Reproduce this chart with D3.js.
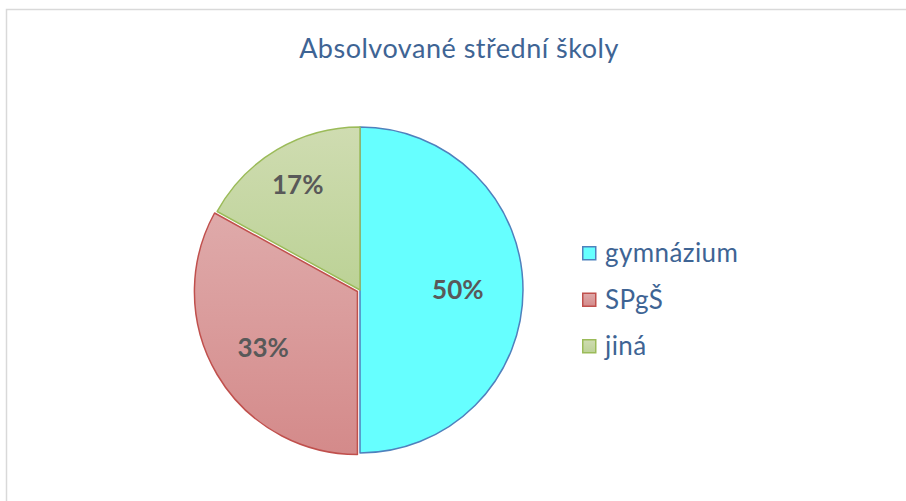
<!DOCTYPE html>
<html>
<head>
<meta charset="utf-8">
<script src="https://d3js.org/d3.v7.min.js"></script>
<style>
  body { margin: 0; background: #fff; }
  text { font-family: Lato, "Open Sans", sans-serif; }
</style>
</head>
<body>
<script>
// data
var categories = ["gymnázium", "SPgŠ", "jiná"];
var values = [50, 33, 17];
var labels = ["50%", "33%", "17%"];
var title = "Absolvované střední školy";

// look
var fills = [["#66ffff", "#66ffff"], ["#dfaaaa", "#d48a8a"], ["#cfdcb1", "#bcd296"]];
var strokes = ["#4f81bd", "#c0504d", "#9bbb59"];
var labelRadius = [0.6, 0.69, 0.75];
var explode = [0, 3, 0];

var width = 906, height = 501;
var cx = 360, cy = 290, r = 163;

var svg = d3.select("body").append("svg")
  .attr("width", width)
  .attr("height", height);

// chart frame
svg.append("rect")
  .attr("x", 6.5).attr("y", 9.5)
  .attr("width", width).attr("height", height)
  .attr("fill", "none")
  .attr("stroke", "#d9d9d9")
  .attr("stroke-width", 1.5);

svg.append("text")
  .attr("x", 459).attr("y", 58)
  .attr("text-anchor", "middle")
  .attr("font-size", 27)
  .attr("letter-spacing", 0.5)
  .attr("fill", "#3e6494")
  .text(title);

var defs = svg.append("defs");
fills.forEach(function(f, i) {
  var g = defs.append("linearGradient")
    .attr("id", "grad" + i)
    .attr("x1", 0).attr("y1", 0).attr("x2", 0).attr("y2", 1);
  g.append("stop").attr("offset", "0%").attr("stop-color", f[0]);
  g.append("stop").attr("offset", "100%").attr("stop-color", f[1]);
});

var pie = d3.pie().sort(null).value(function(d) { return d; });
var arcs = pie(values);
var arc = d3.arc().innerRadius(0).outerRadius(r);

var g = svg.append("g").attr("transform", "translate(" + cx + "," + cy + ")");

g.selectAll("path")
  .data(arcs)
  .enter()
  .append("path")
  .attr("d", arc)
  .attr("transform", function(d, i) {
    var a = (d.startAngle + d.endAngle) / 2;
    return "translate(" + (Math.sin(a) * explode[i]) + "," + (-Math.cos(a) * explode[i]) + ")";
  })
  .attr("fill", function(d, i) { return "url(#grad" + i + ")"; })
  .attr("stroke", function(d, i) { return strokes[i]; })
  .attr("stroke-width", 1.5)
  .attr("stroke-linejoin", "round");

g.selectAll("text.lbl")
  .data(arcs)
  .enter()
  .append("text")
  .attr("class", "lbl")
  .attr("transform", function(d, i) {
    var la = d3.arc().innerRadius(r * labelRadius[i]).outerRadius(r * labelRadius[i]);
    return "translate(" + la.centroid(d) + ")";
  })
  .attr("text-anchor", "middle")
  .attr("dy", "0.36em")
  .attr("font-size", 26)
  .attr("font-weight", "bold")
  .attr("fill", "#595959")
  .text(function(d, i) { return labels[i]; });

// legend
var legend = svg.append("g").attr("transform", "translate(582,246)");
var item = legend.selectAll("g")
  .data(categories)
  .enter()
  .append("g")
  .attr("transform", function(d, i) { return "translate(0," + (i * 46.5) + ")"; });

item.append("rect")
  .attr("x", 0.75).attr("y", 0.75)
  .attr("width", 13).attr("height", 13)
  .attr("fill", function(d, i) { return "url(#grad" + i + ")"; })
  .attr("stroke", function(d, i) { return strokes[i]; })
  .attr("stroke-width", 1.5);

item.append("text")
  .attr("x", 23).attr("y", 16)
  .attr("font-size", 26)
  .attr("letter-spacing", 0.4)
  .attr("fill", "#3e6494")
  .text(function(d) { return d; });
</script>
</body>
</html>
